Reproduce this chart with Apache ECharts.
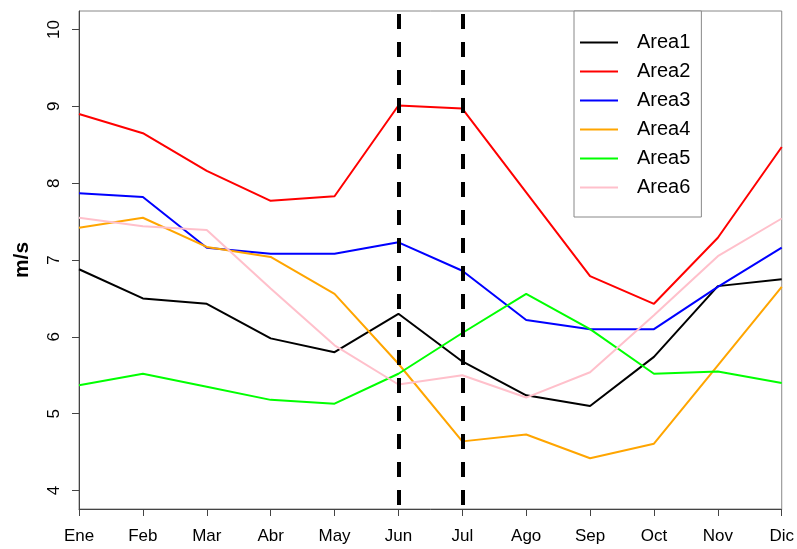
<!DOCTYPE html>
<html>
<head>
<meta charset="utf-8">
<script src="https://cdn.jsdelivr.net/npm/echarts@6/dist/echarts.min.js"></script>
<style>
  html, body { margin: 0; padding: 0; background: #fff; }
  #chart { width: 797px; height: 549px; }
</style>
</head>
<body>
<div id="chart"></div>
<script>
// Monthly mean wind speed (m/s) for six areas
const months = ['Ene', 'Feb', 'Mar', 'Abr', 'May', 'Jun', 'Jul', 'Ago', 'Sep', 'Oct', 'Nov', 'Dic'];
const yTicks = [4, 5, 6, 7, 8, 9, 10];
const markedMonths = ['Jun', 'Jul'];

const area1 = [6.88, 6.50, 6.43, 5.98, 5.80, 6.30, 5.68, 5.24, 5.10, 5.74, 6.66, 6.75];
const area2 = [8.90, 8.65, 8.16, 7.77, 7.83, 9.01, 8.97, 7.88, 6.79, 6.43, 7.29, 8.47];
const area3 = [7.87, 7.82, 7.16, 7.08, 7.08, 7.23, 6.86, 6.22, 6.10, 6.10, 6.65, 7.16];
const area4 = [7.42, 7.55, 7.17, 7.04, 6.56, 5.65, 4.64, 4.73, 4.42, 4.61, 5.63, 6.65];
const area5 = [5.37, 5.52, 5.35, 5.18, 5.13, 5.52, 6.05, 6.56, 6.10, 5.52, 5.55, 5.40];
const area6 = [7.55, 7.44, 7.39, 6.63, 5.89, 5.38, 5.50, 5.21, 5.54, 6.28, 7.05, 7.54];

const seriesNames = ['Area1', 'Area2', 'Area3', 'Area4', 'Area5', 'Area6'];
const seriesData = [area1, area2, area3, area4, area5, area6];
const seriesColors = ['#000000', '#ff0000', '#0000ff', '#ffa500', '#00ff00', '#ffc0cb'];

const FONT = '"Liberation Sans", Arial, sans-serif';

const series = seriesNames.map((name, i) => ({
  name: name,
  type: 'line',
  data: seriesData[i],
  symbol: 'none',
  lineStyle: { color: seriesColors[i], width: 2 },
  itemStyle: { color: seriesColors[i] },
  z: 3,
  animation: false
}));

// vertical dashed reference lines at the marked months
series[0].markLine = {
  silent: true,
  symbol: ['none', 'none'],
  label: { show: false },
  lineStyle: { color: '#000', width: 4, type: [15, 13], dashOffset: -4 },
  data: markedMonths.map(m => ({ xAxis: m })),
  animation: false
};

const chart = echarts.init(document.getElementById('chart'), null, { renderer: 'canvas' });
chart.setOption({
  backgroundColor: '#ffffff',
  animation: false,
  grid: {
    left: 79, right: 13, top: 11, bottom: 40,
    show: true, borderColor: '#888', borderWidth: 1, backgroundColor: 'transparent'
  },
  legend: {
    orient: 'vertical',
    left: 574, top: 11,
    data: seriesNames,
    icon: 'rect',
    itemWidth: 38,
    itemHeight: 2,
    itemGap: 0,
    padding: [17, 11, 15, 6],
    backgroundColor: '#ffffff',
    borderColor: '#888',
    borderWidth: 1,
    textStyle: {
      fontFamily: FONT, fontSize: 20, color: '#000',
      lineHeight: 29, padding: [0, 0, 0, 14]
    }
  },
  xAxis: {
    type: 'category',
    data: months,
    boundaryGap: false,
    axisLine: { show: true, lineStyle: { color: '#444', width: 1 } },
    axisTick: { show: true, inside: false, length: 7, lineStyle: { color: '#444' } },
    axisLabel: { fontFamily: FONT, fontSize: 17, color: '#000', margin: 19, interval: 0 },
    splitLine: { show: false }
  },
  yAxis: {
    type: 'value',
    min: 3.76,
    max: 10.24,
    name: 'm/s',
    nameLocation: 'middle',
    nameRotate: 90,
    nameGap: 46,
    nameTextStyle: { fontFamily: FONT, fontSize: 21, fontWeight: 'bold', color: '#000' },
    axisLine: { show: true, lineStyle: { color: '#444', width: 1 } },
    axisTick: { show: true, inside: false, length: 7, lineStyle: { color: '#444' }, customValues: yTicks },
    axisLabel: { fontFamily: FONT, fontSize: 17, color: '#000', margin: 16, rotate: 90, customValues: yTicks },
    splitLine: { show: false }
  },
  series: series
});
</script>
</body>
</html>
